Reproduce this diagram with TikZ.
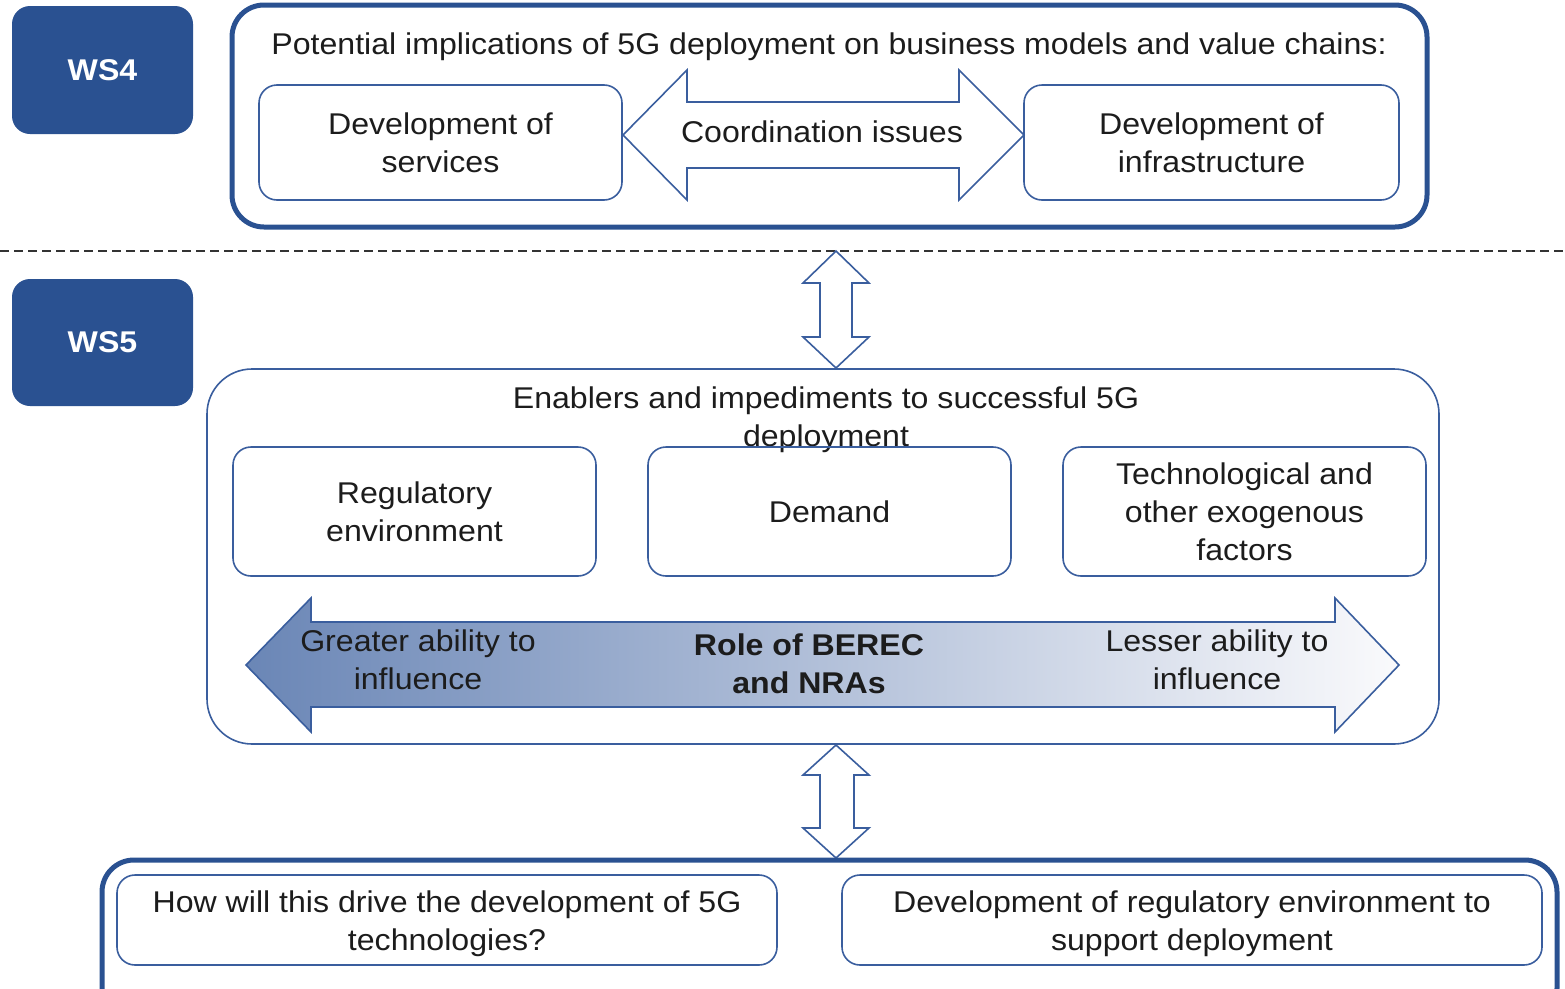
\documentclass[tikz,border=0pt]{standalone}
\usepackage{fontspec}
\setmainfont[FakeStretch=1.07]{Liberation Sans}
\definecolor{dblue}{RGB}{42,81,145}
\definecolor{lblue}{RGB}{58,94,158}
\definecolor{txt}{RGB}{28,28,28}
\definecolor{gleft}{RGB}{106,134,182}
\definecolor{gmid}{RGB}{214,217,230}
\definecolor{gright}{RGB}{250,250,252}
\begin{document}
\begin{tikzpicture}[x=1pt,y=-1pt,
  font=\fontsize{30}{38}\selectfont,
  wsbox/.style={fill=dblue, draw=none, rounded corners=18pt, text=white,
    font=\fontsize{30}{35}\selectfont\bfseries, inner sep=0pt},
  outerthick/.style={draw=dblue, line width=5pt, rounded corners=32pt, inner sep=0pt},
  outerthin/.style={draw=lblue, line width=1.6pt, rounded corners=45pt, inner sep=0pt},
  inbox/.style={draw=lblue, line width=1.6pt, rounded corners=18pt, align=center,
    text=txt, inner sep=0pt},
  blockarrow/.style={draw=lblue, line width=1.6pt, fill=white, line join=miter},
  lbl/.style={align=center, text=txt, inner sep=0pt},
  sep/.style={draw=black!80, line width=1.4pt, dash pattern=on 9pt off 5pt}]

\useasboundingbox (0,0) rectangle (1565,988);
\clip (0,0) rectangle (1565,988);

% WS labels
\node[wsbox, minimum width=181pt, minimum height=128pt] (ws4) at (102.5,70) {WS4};
\node[wsbox, minimum width=181pt, minimum height=127pt] (ws5) at (102.5,342.5) {WS5};

% top group
\node[outerthick, minimum width=1195pt, minimum height=222pt] (top) at (829.5,116) {};
\node[lbl] (toptitle) at (829,47) {Potential implications of 5G deployment on business models and value chains:};
\node[inbox, minimum width=363pt, minimum height=115pt] (serv) at (440.5,142.5) {Development of\\services};
\node[inbox, minimum width=375pt, minimum height=115pt] (infra) at (1211.5,142.5) {Development of\\infrastructure};

\draw[blockarrow] (623,135) -- (687,70) -- (687,102) -- (959,102) -- (959,70) -- (1024,135)
  -- (959,200) -- (959,168) -- (687,168) -- (687,200) -- cycle;
\node[lbl] (coord) at (822,132) {Coordination issues};

% separator
\coordinate (sepL) at (0,251);
\coordinate (sepR) at (1565,251);
\draw[sep] (sepL) -- (sepR);

% vertical arrow 1
\draw[blockarrow] (836,251) -- (869,283) -- (852,283) -- (852,337) -- (869,337) -- (836,368)
  -- (803,337) -- (820,337) -- (820,283) -- (803,283) -- cycle;

% middle group
\node[outerthin, minimum width=1232pt, minimum height=375pt] (mid) at (823,556.5) {};
\node[lbl] (midtitle) at (826,420) {Enablers and impediments to successful 5G\\deployment};
\node[inbox, minimum width=363pt, minimum height=129pt] (reg) at (414.5,511.5) {Regulatory\\environment};
\node[inbox, minimum width=363pt, minimum height=129pt] (dem) at (829.5,511.5) {Demand};
\node[inbox, minimum width=363pt, minimum height=129pt] (tech) at (1244.5,511.5) {Technological and\\other exogenous\\factors};

% gradient double arrow
\draw[draw=lblue, line width=1.6pt, line join=miter, left color=gleft, middle color=gmid, right color=gright]
  (246,665) -- (311,598) -- (311,622) -- (1335,622) -- (1335,598) -- (1399,665)
  -- (1335,732) -- (1335,707) -- (311,707) -- (311,732) -- cycle;
\node[lbl] (greater) at (418,660) {Greater ability to\\influence};
\node[lbl, font=\fontsize{30}{38}\selectfont\bfseries] (role) at (809,664) {Role of BEREC\\and NRAs};
\node[lbl] (lesser) at (1217,660) {Lesser ability to\\influence};

% vertical arrow 2
\draw[blockarrow] (836,745) -- (869,775) -- (854,775) -- (854,828) -- (869,828) -- (836,858)
  -- (803,828) -- (820,828) -- (820,775) -- (803,775) -- cycle;

% bottom group
\node[outerthick, minimum width=1455pt, minimum height=160pt] (bot) at (829.5,940) {};
\node[inbox, minimum width=660pt, minimum height=90pt] (how) at (447,920)
  {\rule{0pt}{29pt}How will this drive the development of 5G\\technologies?};
\node[inbox, minimum width=700pt, minimum height=90pt] (devreg) at (1192,920)
  {\rule{0pt}{29pt}Development of regulatory environment to\\support deployment};

\end{tikzpicture}
\end{document}
